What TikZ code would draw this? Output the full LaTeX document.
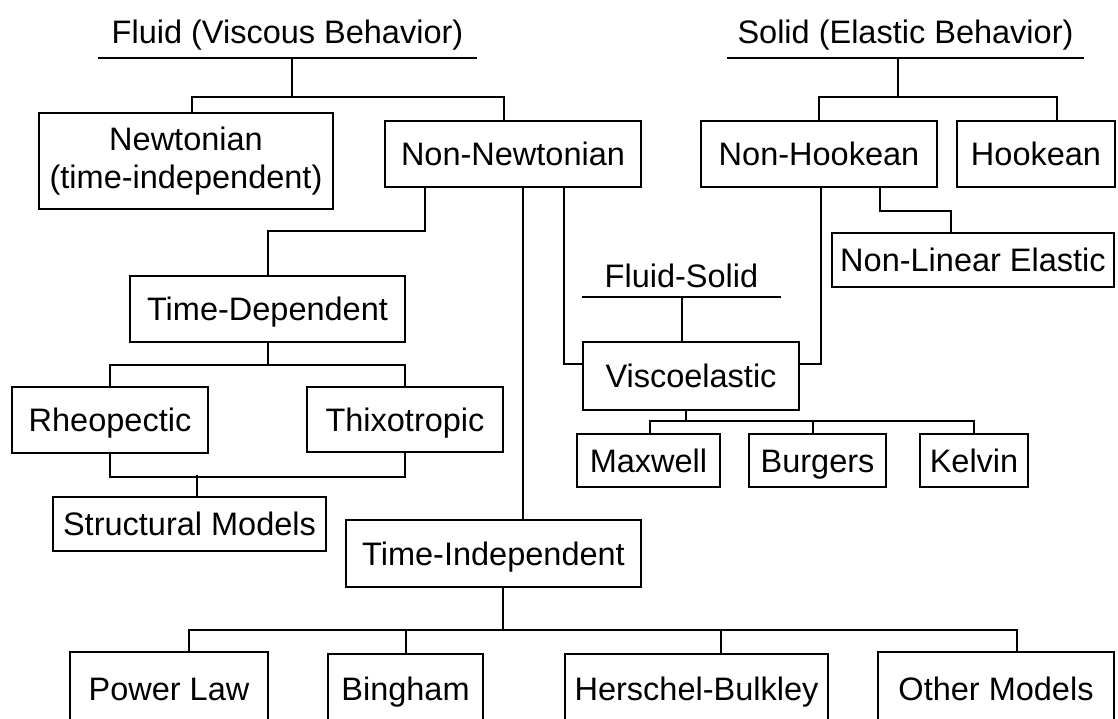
\documentclass[tikz,border=0pt]{standalone}
\usepackage{fontspec}
\setmainfont{Liberation Sans}
\begin{document}
\begin{tikzpicture}[x=1pt, y=-1pt, line width=2pt,
  font=\fontsize{32.5}{38}\selectfont,
  bx/.style 2 args={draw, inner sep=0pt, minimum width=#1, minimum height=#2},
  cell/.style 2 args={bx={#1}{#2}, text height=23.4pt, text depth=0pt},
  head/.style 2 args={anchor=south, outer sep=0pt, inner xsep=0pt, inner ysep=#2,
    minimum width=#1, text height=23.4pt, text depth=0pt}]
  \useasboundingbox (0,0) rectangle (1118,718);
  \node[head={379pt}{15pt}] (fluid) at (287.5,58) {Fluid (Viscous Behavior)};
  \node[head={357pt}{15pt}] (solid) at (905.5,58) {Solid (Elastic Behavior)};
  \node[head={199pt}{10pt}] (fs) at (681.5,297) {Fluid-Solid};
  \draw (fluid.south west) -- (fluid.south east);
  \draw (solid.south west) -- (solid.south east);
  \draw (fs.south west) -- (fs.south east);
  \node[bx={294pt}{96pt}, align=center] (newt) at (186,161) {Newtonian\\(time-independent)};
  \node[cell={256pt}{66pt}] (nonnewt) at (513,154) {Non-Newtonian};
  \node[cell={236pt}{66pt}] (nonhooke) at (819,154) {Non-Hookean};
  \node[cell={158pt}{66pt}] (hooke) at (1036,154) {Hookean};
  \node[cell={282pt}{54pt}] (nonlin) at (973,260) {Non-Linear Elastic};
  \node[cell={275pt}{66pt}] (timedep) at (267.5,309) {Time-Dependent};
  \node[cell={216pt}{68pt}] (visco) at (691,376) {Viscoelastic};
  \node[cell={196pt}{66pt}] (rheo) at (110,420) {Rheopectic};
  \node[cell={196pt}{65pt}] (thixo) at (405,419.5) {Thixotropic};
  \node[cell={143pt}{53pt}] (maxwell) at (648.5,460.5) {Maxwell};
  \node[cell={137pt}{53pt}] (burgers) at (817.5,460.5) {Burgers};
  \node[cell={108pt}{53pt}] (kelvin) at (974,460.5) {Kelvin};
  \node[cell={273pt}{54pt}] (struct) at (189.5,524) {Structural Models};
  \node[cell={295pt}{67pt}] (timeind) at (493.5,553.5) {Time-Independent};
  \node[cell={198pt}{73pt}] (power) at (169,688.5) {Power Law};
  \node[cell={155pt}{70pt}] (bingham) at (405.5,689) {Bingham};
  \node[cell={263pt}{70pt}] (hb) at (696.5,689) {Herschel-Bulkley};
  \node[cell={236pt}{73pt}] (other) at (996,688.5) {Other Models};
  \draw ([xshift=4.5pt]fluid.south) -- ++(0,39) coordinate (fj);
  \draw ([xshift=6pt]newt.north) |- (fj) -| ([xshift=-9pt]nonnewt.north);
  \draw ([xshift=-7.5pt]solid.south) -- ++(0,39) coordinate (sj);
  \draw (nonhooke.north) |- (sj) -| ([xshift=21pt]hooke.north);
  \draw ([xshift=-88pt]nonnewt.south) -- ++(0,43) -| (timedep.north);
  \draw ([xshift=10pt]nonnewt.south) -- ([xshift=10pt]timeind.north -| nonnewt.south);
  \draw ([xshift=51pt]nonnewt.south) |- ([yshift=12pt]visco.west);
  \draw ([xshift=2pt]nonhooke.south) |- ([yshift=12pt]visco.east);
  \draw ([xshift=61pt]nonhooke.south) -- ++(0,23) -| ([xshift=-22pt]nonlin.north);
  \draw (fs.south) -- (fs.south |- visco.north);
  \draw ([xshift=-5pt]visco.south) -- ++(0,10) coordinate (vj);
  \draw ([xshift=1.5pt]maxwell.north) |- (vj) -| (kelvin.north);
  \draw ([xshift=-4.5pt]burgers.north) -- ([xshift=-4.5pt]vj -| burgers.north);
  \draw (timedep.south) -- ++(0,22) coordinate (tj);
  \draw (rheo.north) |- (tj) -| (thixo.north);
  \draw (rheo.south) -- ++(0,23) -| (thixo.south);
  \draw ([xshift=7.5pt]struct.north) -- ++(0,-21);
  \draw ([xshift=9.5pt]timeind.south) -- ++(0,42) coordinate (ij);
  \draw ([xshift=20pt]power.north) |- (ij) -| ([xshift=21pt]other.north);
  \draw (bingham.north) -- (ij -| bingham.north);
  \draw ([xshift=24.5pt]hb.north) -- ([xshift=24.5pt]ij -| hb.north);
\end{tikzpicture}
\end{document}
